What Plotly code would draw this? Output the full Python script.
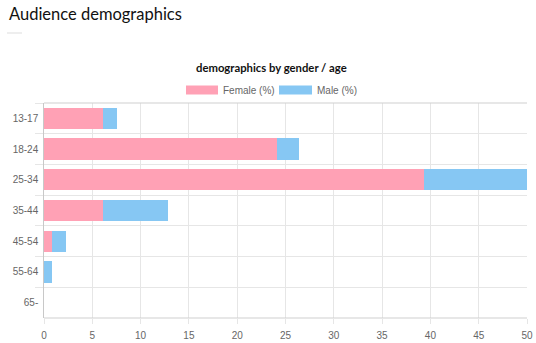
import plotly.graph_objects as go

age_groups = ["13-17", "18-24", "25-34", "35-44", "45-54", "55-64", "65-"]
female_pct = [6.1, 24.1, 39.3, 6.1, 0.8, 0.0, 0.0]
male_pct = [1.5, 2.3, 10.8, 6.7, 1.5, 0.8, 0.0]
x_ticks = [0, 5, 10, 15, 20, 25, 30, 35, 40, 45, 50]

female_color = "rgb(255,161,181)"
male_color = "rgb(134,199,243)"
sans = "Liberation Sans"
fs = 10

fig = go.Figure()
fig.add_trace(go.Bar(y=age_groups, x=female_pct, orientation="h", name="Female (%)",
                     marker=dict(color=female_color, line=dict(width=0))))
fig.add_trace(go.Bar(y=age_groups, x=male_pct, orientation="h", name="Male (%)",
                     marker=dict(color=male_color, line=dict(width=0))))

fig.update_layout(
    width=536, height=343,
    barmode="stack", bargap=0.31,
    showlegend=False,
    plot_bgcolor="white", paper_bgcolor="white",
    margin=dict(l=44, r=9, t=103, b=25, autoexpand=False),
    font=dict(family=sans, color="#666", size=fs),
    xaxis=dict(range=[0, 50], tickvals=x_ticks, showgrid=True, gridcolor="#e6e6e6",
               gridwidth=1, zeroline=False, showline=False, ticks="outside",
               ticklen=5, tickcolor="#e6e6e6", ticklabelstandoff=3,
               tickfont=dict(family=sans, size=fs, color="#666"),
               automargin=False, fixedrange=True),
    yaxis=dict(type="category", categoryorder="array", categoryarray=age_groups,
               autorange="reversed", tickson="boundaries", showgrid=True,
               gridcolor="#e6e6e6", ticks="outside", ticklen=8, tickcolor="#e6e6e6",
               showline=True, linecolor="#c8c8c8", linewidth=1,
               tickfont=dict(family=sans, size=fs, color="#666"), ticksuffix=" ",
               automargin=False, fixedrange=True),
)

# frame lines (top and bottom borders)
fig.add_shape(type="line", xref="paper", yref="paper", x0=0, x1=1, y0=1, y1=1,
              line=dict(color="#cfcfcf", width=1))
fig.add_shape(type="line", xref="paper", yref="paper", x0=0, x1=1, y0=0, y1=0,
              line=dict(color="#cfcfcf", width=1))

# page title
fig.add_annotation(text="Audience demographics", xref="paper", yref="paper",
                   x=-37/483, y=1 + 101/215, xanchor="left", yanchor="top",
                   showarrow=False,
                   font=dict(family="Lato, sans-serif", size=16.5, color="#111"))
fig.add_shape(type="line", xref="paper", yref="paper",
              x0=-37/483, x1=-22/483, y0=1 + 70/215, y1=1 + 70/215,
              line=dict(color="#dddddd", width=1))

# chart title
fig.add_annotation(text="<b>demographics by gender / age</b>", xref="paper", yref="paper",
                   x=(271 - 44) / 483, y=1 + 36/215, xanchor="center", yanchor="middle",
                   showarrow=False,
                   font=dict(family="Lato, sans-serif", size=11.3, color="#111"))

# legend
legend_y = 1 + 13/215
h = 4.5/215
for name, color, x0, x1, tx in [("Female (%)", female_color, 186, 218, 221),
                                ("Male (%)", male_color, 279, 312, 315)]:
    fig.add_shape(type="rect", xref="paper", yref="paper",
                  x0=(x0 - 44)/483, x1=(x1 - 44)/483, y0=legend_y - h, y1=legend_y + h,
                  fillcolor=color, line=dict(width=0))
    fig.add_annotation(text=name, xref="paper", yref="paper", x=(tx - 44)/483, y=legend_y,
                       xanchor="left", yanchor="middle", showarrow=False,
                       font=dict(family=sans, size=fs, color="#666"))

fig.write_html("out.html")
